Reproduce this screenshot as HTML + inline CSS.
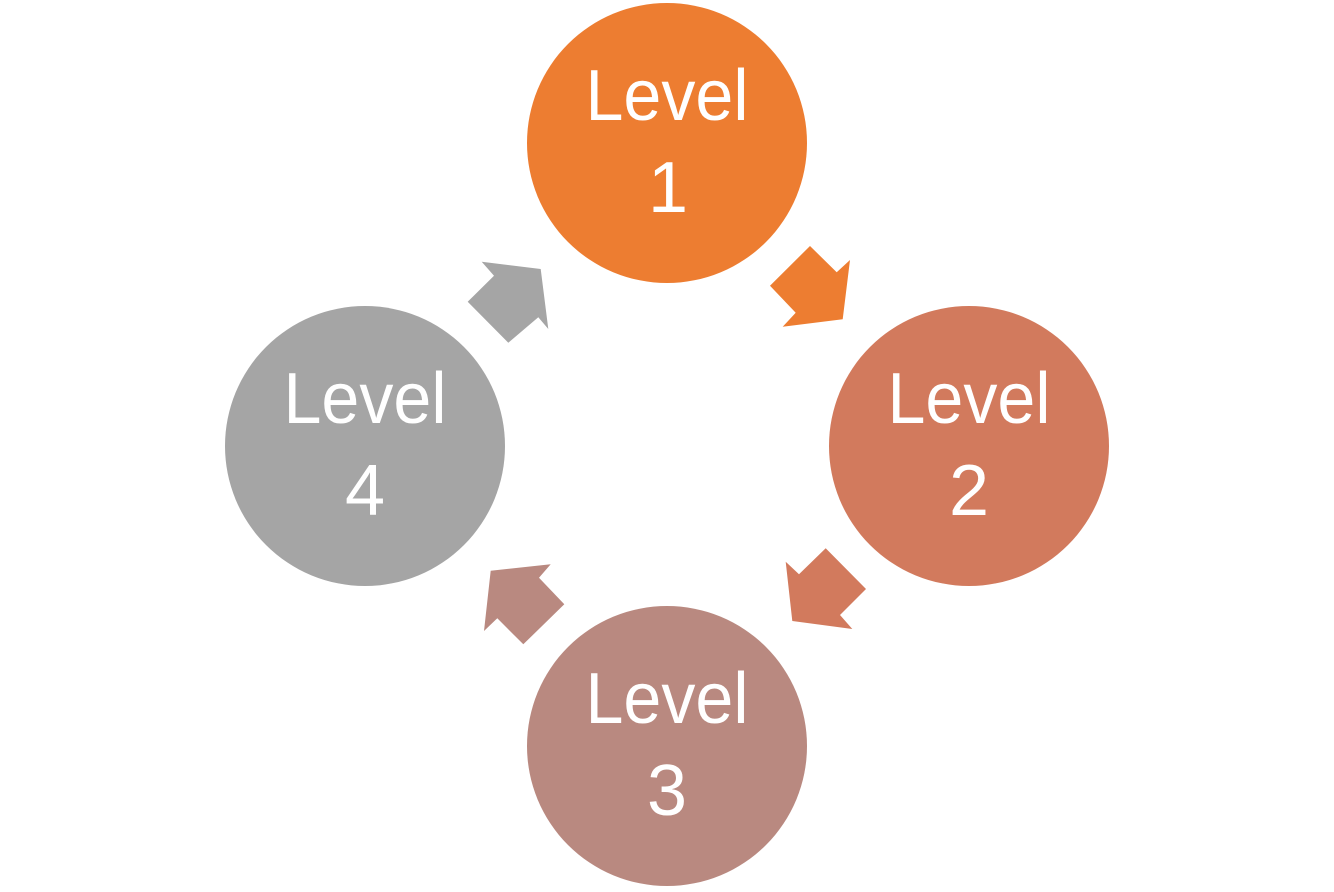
<!DOCTYPE html>
<html><head><meta charset="utf-8"><style>
html,body{margin:0;padding:0;background:#fff;}
svg{display:block;}
text{font-family:"Liberation Sans",sans-serif;font-size:72px;fill:#fff;}
</style></head><body>
<svg width="1334" height="892" viewBox="0 0 1334 892" xmlns="http://www.w3.org/2000/svg">
<circle cx="667" cy="143" r="140" fill="#ED7D31"/>
<circle cx="969" cy="446" r="140" fill="#D27A5D"/>
<circle cx="667" cy="746" r="140" fill="#B98980"/>
<circle cx="365" cy="446" r="140" fill="#A5A5A5"/>
<polygon points="810,246 836.7,272.3 850,260 842.7,319.3 782.7,326.7 795.7,312.7 770,285.7" fill="#ED7D31"/>
<polygon points="825.7,548.3 866,589 840,615 852.3,629 792.3,621 785.7,561.7 799,574.3" fill="#D27A5D"/>
<polygon points="550.7,564.3 539,577.7 564.3,604.3 523.3,644.3 497.3,618.3 484,631 490.7,570.7" fill="#B98980"/>
<polygon points="481.7,261.7 540.7,269 548.3,329 538.3,317.3 508.3,342.7 467.7,301.7 494,275.7" fill="#A5A5A5"/>
<text x="667" y="120" text-anchor="middle" textLength="163" lengthAdjust="spacingAndGlyphs">Level</text>
<text x="668" y="212" text-anchor="middle">1</text>
<text x="969" y="423" text-anchor="middle" textLength="163" lengthAdjust="spacingAndGlyphs">Level</text>
<text x="969" y="515" text-anchor="middle">2</text>
<text x="667" y="723" text-anchor="middle" textLength="163" lengthAdjust="spacingAndGlyphs">Level</text>
<text x="667" y="815" text-anchor="middle">3</text>
<text x="365" y="423" text-anchor="middle" textLength="163" lengthAdjust="spacingAndGlyphs">Level</text>
<text x="365" y="515" text-anchor="middle">4</text>
</svg>
</body></html>
